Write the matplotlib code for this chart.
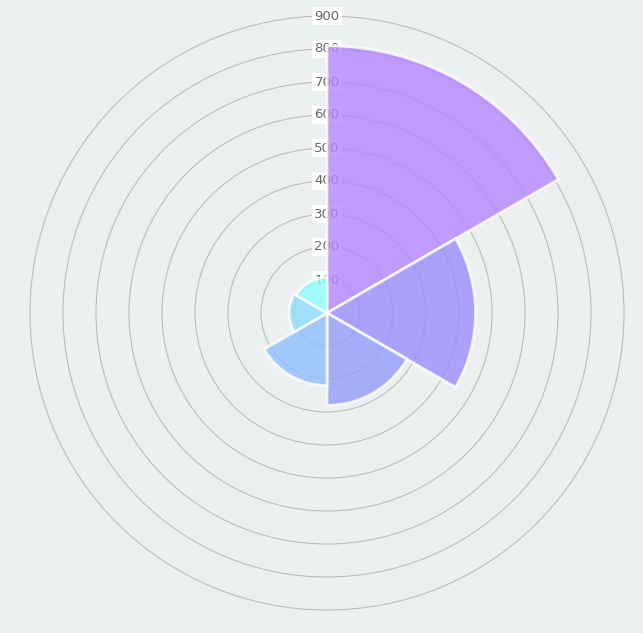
import numpy as np
import matplotlib.pyplot as plt

values = [810, 450, 280, 220, 115, 108]
colors = ['#b486fe', '#988efd', '#919dfc', '#8dbffb', '#8dddfb', '#8cfefd']
ticks = [100, 200, 300, 400, 500, 600, 700, 800, 900]

fig = plt.figure(figsize=(6.43, 6.33), dpi=100)
fig.patch.set_facecolor('#ecf0f1')
rmax = 905
R = 297 * rmax / 900
ax = fig.add_axes([(327 - R)/643, (320 - R)/633, 2*R/643, 2*R/633], projection='polar')
ax.set_facecolor('#ecf0f1')
ax.set_theta_zero_location('N')
ax.set_theta_direction(-1)
ax.set_axisbelow(True)

# labels sit under the segments, grid under both
for t in ticks:
    ax.text(0, t, str(t), ha='center', va='center', fontsize=9.5, color='#666666',
            bbox=dict(boxstyle='square,pad=0.2', fc='white', ec='none'),
            zorder=1.5)

n = len(values)
theta = np.arange(n) * 2*np.pi/n
ax.bar(theta, values, width=2*np.pi/n, align='edge', color=colors, alpha=0.8,
       edgecolor='white', linewidth=2, zorder=2)

ax.set_ylim(0, rmax)
ax.set_yticks(ticks)
ax.set_yticklabels([])
ax.set_xticks([])
ax.spines['polar'].set_visible(False)
ax.yaxis.grid(True, color='#bdbdbd', linewidth=0.8)
ax.xaxis.grid(False)

fig.savefig('out.png', dpi=100, facecolor=fig.get_facecolor())
